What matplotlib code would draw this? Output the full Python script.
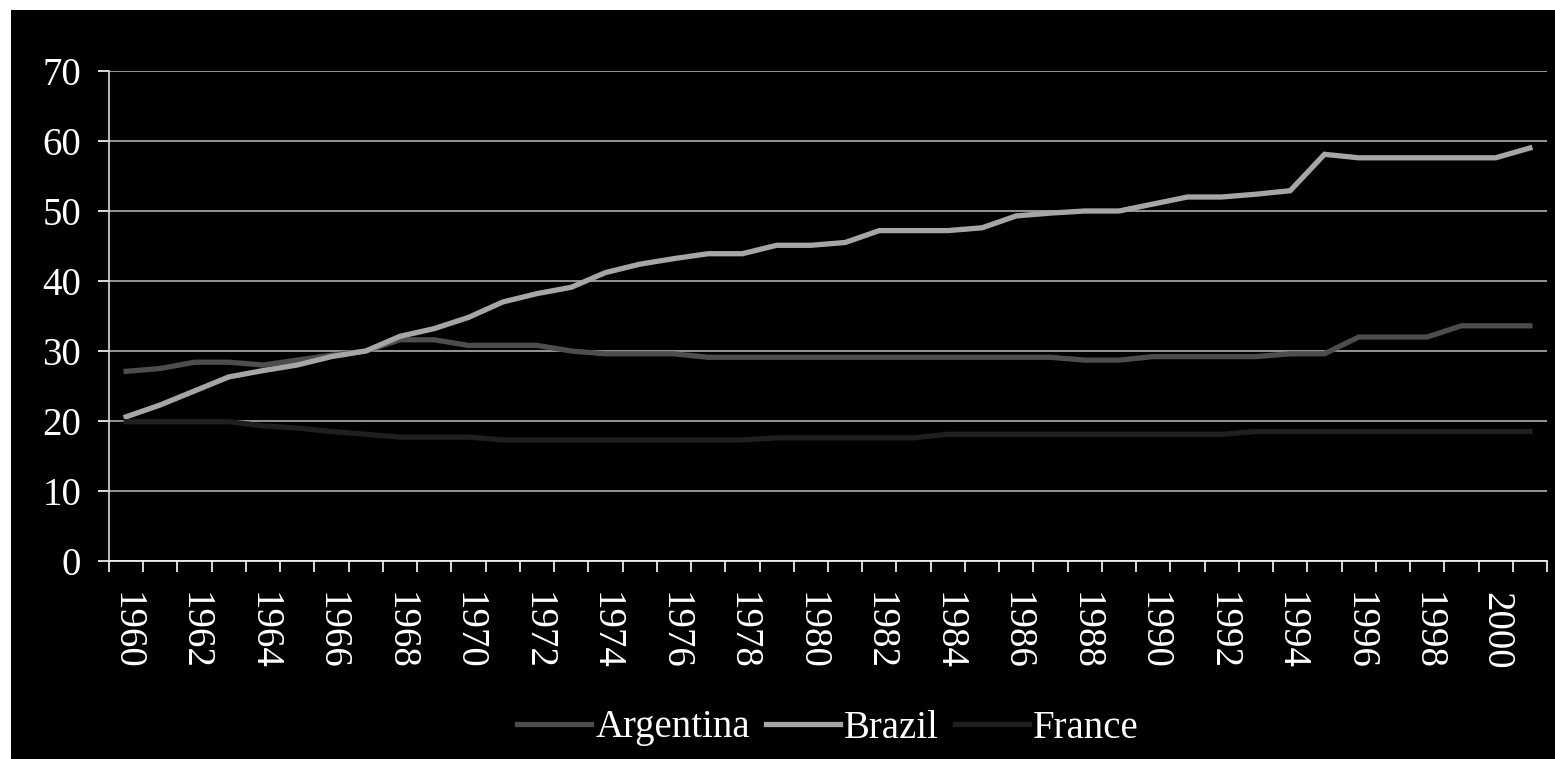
import matplotlib
matplotlib.use("Agg")
import matplotlib.pyplot as plt
from matplotlib.patches import Rectangle

plt.rcParams["font.family"] = ["Liberation Serif", "DejaVu Serif"]

years = list(range(1960, 2002))
argentina = [27.1, 27.5, 28.4, 28.4, 28.0, 28.7, 29.4, 30.0, 31.6, 31.6,
             30.8, 30.8, 30.8, 30.0, 29.6, 29.6, 29.6, 29.1, 29.1, 29.1,
             29.1, 29.1, 29.1, 29.1, 29.1, 29.1, 29.1, 29.1, 28.7, 28.7,
             29.2, 29.2, 29.2, 29.2, 29.6, 29.6, 32.0, 32.0, 32.0, 33.6,
             33.6, 33.6]
brazil = [20.6, 22.3, 24.3, 26.3, 27.2, 28.0, 29.2, 30.0, 32.1, 33.2,
          34.8, 37.0, 38.2, 39.1, 41.2, 42.4, 43.2, 43.9, 43.9, 45.1,
          45.1, 45.5, 47.2, 47.2, 47.2, 47.6, 49.3, 49.7, 50.0, 50.0,
          51.0, 52.0, 52.0, 52.4, 52.9, 58.1, 57.6, 57.6, 57.6, 57.6,
          57.6, 59.0]
france = [19.9, 19.9, 19.9, 19.9, 19.3, 19.0, 18.5, 18.1, 17.7, 17.7,
          17.7, 17.3, 17.3, 17.3, 17.3, 17.3, 17.3, 17.3, 17.3, 17.6,
          17.6, 17.6, 17.6, 17.6, 18.1, 18.1, 18.1, 18.1, 18.1, 18.1,
          18.1, 18.1, 18.1, 18.5, 18.5, 18.5, 18.5, 18.5, 18.5, 18.5,
          18.5, 18.5]
yticks = [0, 10, 20, 30, 40, 50, 60, 70]

fig = plt.figure(figsize=(15.55, 7.59), dpi=100, facecolor="black")
# thin white margin along the top and left edges
fig.patches.append(Rectangle((0, 1 - 10 / 759), 1, 10 / 759,
                             transform=fig.transFigure, facecolor="white",
                             edgecolor="none"))
fig.patches.append(Rectangle((0, 0), 11 / 1555, 1,
                             transform=fig.transFigure, facecolor="white",
                             edgecolor="none"))

ax = fig.add_axes([109 / 1555, (759 - 561) / 759, 1438 / 1555, 490 / 759])
ax.set_facecolor("black")

x = list(range(len(years)))
ax.plot(x, argentina, color="#4d4d4d", lw=3.8, label="Argentina",
        solid_joinstyle="miter")
ax.plot(x, brazil, color="#a6a6a6", lw=3.8, label="Brazil",
        solid_joinstyle="miter")
ax.plot(x, france, color="#1f1f1f", lw=3.8, label="France",
        solid_joinstyle="miter")

ax.set_xlim(-0.5, len(years) - 0.5)
ax.set_ylim(0, 70)
ax.set_yticks(yticks)
ax.yaxis.grid(True, color="#a0a0a0", lw=1.3)
ax.set_axisbelow(True)

# tick marks sit between categories, labels on every other category
ax.set_xticks([i - 0.5 for i in range(len(years) + 1)], minor=False)
ax.set_xticklabels([])
ax.set_xticks(x[::2], minor=True)
ax.set_xticklabels([str(y) for y in years[::2]], minor=True, rotation=270)
ax.tick_params(axis="x", which="minor", length=0, pad=22)
ax.tick_params(axis="x", which="major", length=8, width=1.2,
               color="white", direction="out")
ax.tick_params(axis="y", length=8, width=1.2, color="white", pad=12)
ax.tick_params(axis="both", which="both", labelsize=28, labelcolor="white")

for s in ["top", "right"]:
    ax.spines[s].set_visible(False)
ax.spines["left"].set_color("#d9d9d9")
ax.spines["bottom"].set_color("white")
ax.spines["left"].set_linewidth(1.2)
ax.spines["bottom"].set_linewidth(1.2)

leg = fig.legend(loc="center", bbox_to_anchor=(828 / 1555, 1 - 728 / 759),
                 ncol=3, frameon=False, fontsize=28, handlelength=1.9,
                 handletextpad=0.12, columnspacing=0.4)
for t in leg.get_texts():
    t.set_color("white")

fig.savefig("out.png", dpi=100, facecolor=fig.get_facecolor())
